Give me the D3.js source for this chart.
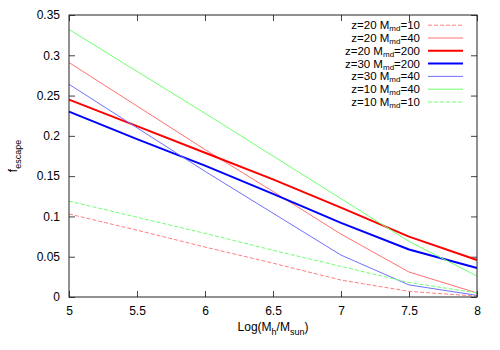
<!DOCTYPE html>
<html>
<head>
<meta charset="utf-8">
<script src="https://cdn.jsdelivr.net/npm/d3@7"></script>
<style>
  body { margin: 0; background: #fff; }
  svg { font-family: "Liberation Sans", Arial, sans-serif; }
</style>
</head>
<body>
<script>
// log halo mass and escape fractions
var logMass = [5, 5.5, 6, 6.5, 7, 7.5, 8];

var z20m10  = [0.103, 0.083, 0.062, 0.042, 0.021, 0.007, 0.001];
var z20m40  = [0.291, 0.237, 0.183, 0.131, 0.078, 0.031, 0.005];
var z20m200 = [0.245, 0.212, 0.179, 0.146, 0.111, 0.075, 0.046];
var z30m200 = [0.230, 0.196, 0.163, 0.128, 0.092, 0.059, 0.036];
var z30m40  = [0.264, 0.210, 0.156, 0.104, 0.052, 0.015, 0.002];
var z10m40  = [0.332, 0.280, 0.228, 0.175, 0.122, 0.069, 0.026];
var z10m10  = [0.119, 0.099, 0.079, 0.058, 0.038, 0.018, 0.005];

var xTicks = [5, 5.5, 6, 6.5, 7, 7.5, 8];
var yTicks = [0, 0.05, 0.1, 0.15, 0.2, 0.25, 0.3, 0.35];

var series = [
  {z: "20", m: "10",  values: z20m10,  color: "#ff8080", width: 1,   dash: "4,2"},
  {z: "20", m: "40",  values: z20m40,  color: "#ff7070", width: 1,   dash: null},
  {z: "20", m: "200", values: z20m200, color: "#ff0000", width: 2,   dash: null},
  {z: "30", m: "200", values: z30m200, color: "#0000ff", width: 2,   dash: null},
  {z: "30", m: "40",  values: z30m40,  color: "#7070ff", width: 1,   dash: null},
  {z: "10", m: "40",  values: z10m40,  color: "#70ff70", width: 1,   dash: null},
  {z: "10", m: "10",  values: z10m10,  color: "#70ff70", width: 1,   dash: "4,2"}
];

var margin = {top: 15, bottom: 53, left: 69, right: 23};
var width = 500 - margin.left - margin.right,
    height = 350 - margin.top - margin.bottom;

var svg = d3.select("body")
            .append("svg")
              .attr("width", 500)
              .attr("height", 350);

var g = svg.append("g")
           .attr("transform", "translate(" + margin.left + "," + margin.top + ")");

var x = d3.scaleLinear().domain([5, 8]).range([0, width]);
var y = d3.scaleLinear().domain([0, 0.35]).range([height, 0]);

// axes, ticks pointing inward like gnuplot
function styleAxis(sel) {
  sel.select(".domain").remove();
  sel.selectAll(".tick line").attr("stroke", "#444");
  sel.selectAll(".tick text").attr("fill", "#000").style("font-size", "12px");
}

g.append("g")
  .attr("transform", "translate(0," + height + ")")
  .call(d3.axisBottom(x).tickValues(xTicks).tickSize(-6).tickPadding(9)
          .tickFormat(function(d) { return d; }))
  .call(styleAxis);

g.append("g")
  .call(d3.axisTop(x).tickValues(xTicks).tickSize(-6).tickFormat(""))
  .call(styleAxis);

g.append("g")
  .call(d3.axisLeft(y).tickValues(yTicks).tickSize(-6).tickPadding(9)
          .tickFormat(function(d) { return d; }))
  .call(styleAxis);

g.append("g")
  .attr("transform", "translate(" + width + ",0)")
  .call(d3.axisRight(y).tickValues(yTicks).tickSize(-6).tickFormat(""))
  .call(styleAxis);

var line = d3.line()
             .x(function(d, i) { return x(logMass[i]); })
             .y(function(d) { return y(d); });

g.selectAll("path.series")
  .data(series)
  .enter()
  .append("path")
    .attr("class", "series")
    .attr("fill", "none")
    .attr("stroke", function(d) { return d.color; })
    .attr("stroke-width", function(d) { return d.width; })
    .attr("stroke-dasharray", function(d) { return d.dash; })
    .attr("d", function(d) { return line(d.values); });

// legend
var legend = g.selectAll("g.legend")
              .data(series)
              .enter()
              .append("g")
                .attr("class", "legend")
                .attr("transform", function(d, i) { return "translate(0," + (10.2 + i * 12.8) + ")"; });

legend.append("line")
  .attr("x1", 359).attr("x2", 394)
  .attr("y1", 0).attr("y2", 0)
  .attr("stroke", function(d) { return d.color; })
  .attr("stroke-width", function(d) { return d.width; })
  .attr("stroke-dasharray", function(d) { return d.dash; });

var lt = legend.append("text")
  .attr("x", 351)
  .attr("y", 4)
  .attr("text-anchor", "end")
  .style("font-size", "11.5px");
lt.append("tspan").text(function(d) { return "z=" + d.z + " M"; });
lt.append("tspan").attr("dy", 2).style("font-size", "8px").text("md");
lt.append("tspan").attr("dy", -2).text(function(d) { return "=" + d.m; });

g.append("rect")
  .attr("width", width)
  .attr("height", height)
  .attr("fill", "none")
  .attr("stroke", "#222")
  .attr("stroke-width", 1);

// axis labels
var xl = svg.append("text")
  .attr("x", margin.left + width / 2)
  .attr("y", 331)
  .attr("text-anchor", "middle")
  .style("font-size", "12px");
xl.append("tspan").text("Log(M");
xl.append("tspan").attr("dy", 4).style("font-size", "9px").text("h");
xl.append("tspan").attr("dy", -4).text("/M");
xl.append("tspan").attr("dy", 4).style("font-size", "9px").text("sun");
xl.append("tspan").attr("dy", -4).text(")");

var yl = svg.append("text")
  .attr("transform", "translate(17," + (margin.top + height / 2) + ") rotate(-90)")
  .attr("text-anchor", "middle")
  .style("font-size", "12px");
yl.append("tspan").text("f");
yl.append("tspan").attr("dy", 4).style("font-size", "9px").text("escape");
</script>
</body>
</html>
